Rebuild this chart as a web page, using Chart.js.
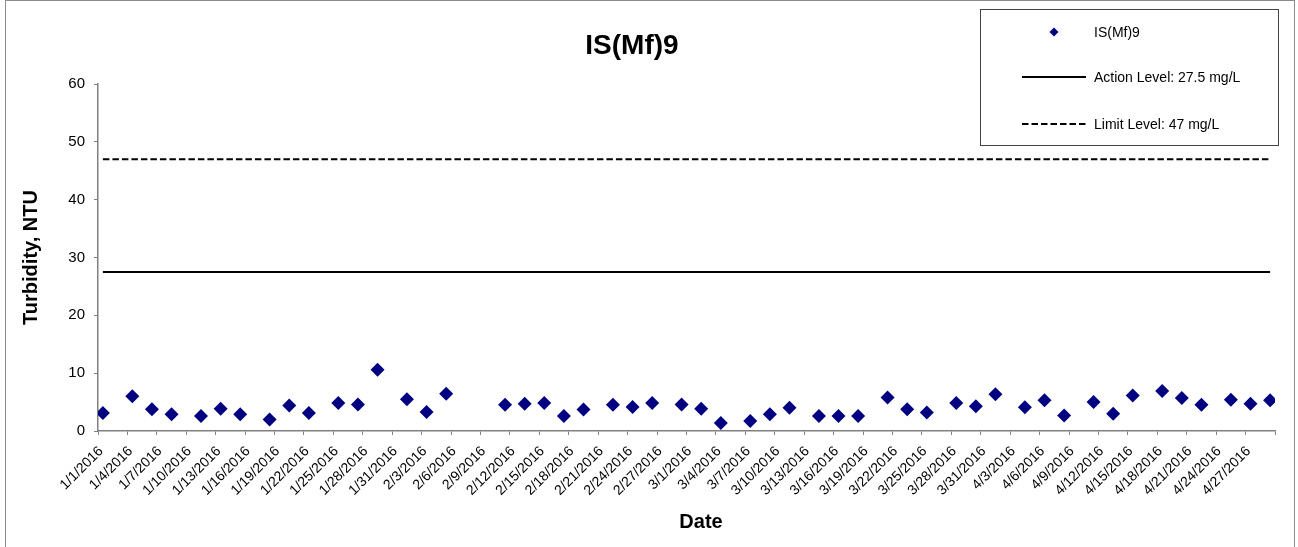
<!DOCTYPE html>
<html>
<head>
<meta charset="utf-8">
<title>IS(Mf)9</title>
<script src="https://cdn.jsdelivr.net/npm/chart.js@4/dist/chart.umd.min.js"></script>
<style>
  html, body { margin: 0; padding: 0; background: #fff; }
  #wrap { width: 1298px; height: 547px; position: relative; }
</style>
</head>
<body>
<div id="wrap"><canvas id="turbChart"></canvas></div>
<script>
// ---- data ----
const chartTitle = "IS(Mf)9";
const seriesName = "IS(Mf)9";
const sampleDates = [
  "1/1/2016", "1/4/2016", "1/6/2016", "1/8/2016", "1/11/2016", "1/13/2016", "1/15/2016",
  "1/18/2016", "1/20/2016", "1/22/2016", "1/25/2016", "1/27/2016", "1/29/2016",
  "2/1/2016", "2/3/2016", "2/5/2016", "2/11/2016", "2/13/2016", "2/15/2016", "2/17/2016",
  "2/19/2016", "2/22/2016", "2/24/2016", "2/26/2016", "2/29/2016",
  "3/2/2016", "3/4/2016", "3/7/2016", "3/9/2016", "3/11/2016", "3/14/2016", "3/16/2016",
  "3/18/2016", "3/21/2016", "3/23/2016", "3/25/2016", "3/28/2016", "3/30/2016",
  "4/1/2016", "4/4/2016", "4/6/2016", "4/8/2016", "4/11/2016", "4/13/2016", "4/15/2016",
  "4/18/2016", "4/20/2016", "4/22/2016", "4/25/2016", "4/27/2016", "4/29/2016"
];
const turbidity = [
  3.1, 6.0, 3.75, 2.9, 2.6, 3.85, 2.9,
  2.0, 4.4, 3.1, 4.85, 4.6, 10.6,
  5.5, 3.3, 6.45, 4.55, 4.7, 4.85, 2.6,
  3.7, 4.55, 4.15, 4.85, 4.6,
  3.85, 1.4, 1.75, 2.9, 4.0, 2.6, 2.6,
  2.6, 5.8, 3.75, 3.2, 4.85, 4.3,
  6.35, 4.1, 5.3, 2.7, 5.0, 3.0, 6.15,
  6.9, 5.7, 4.55, 5.4, 4.7, 5.3
];
const actionLevel = 27.5;
const limitLevel = 47;
const actionLabel = "Action Level: 27.5 mg/L";
const limitLabel = "Limit Level: 47 mg/L";
const axisStart = "1/1/2016";   // first day on the date axis
const axisDays = 120;           // days shown (1/1 .. 4/29)
const tickEveryDays = 3;
const yTicks = [0, 10, 20, 30, 40, 50, 60];
const xTitle = "Date";
const yTitle = "Turbidity, NTU";

// ---- helpers ----
const DAY = 86400000;
function parseDate(s) {
  const [m, d, y] = s.split("/").map(Number);
  return Date.UTC(y, m - 1, d);
}
const t0 = parseDate(axisStart);
// points sit in the middle of their day slot
function dayPos(s) { return (parseDate(s) - t0) / DAY + 0.5; }
function dayLabel(v) {
  const dt = new Date(t0 + v * DAY);
  return (dt.getUTCMonth() + 1) + "/" + dt.getUTCDate() + "/" + dt.getUTCFullYear();
}

const points = sampleDates.map((d, i) => ({ x: dayPos(d), y: turbidity[i] }));
const firstX = dayPos(sampleDates[0]);
const lastX = dayPos(sampleDates[sampleDates.length - 1]);

const FONT = "'Liberation Sans', Arial, sans-serif";
Chart.defaults.font.family = FONT;
Chart.defaults.color = "#000";

// title, x axis title, outer frame and boxed legend
const decorations = {
  id: "decorations",
  beforeDraw(chart) {
    const ctx = chart.ctx;
    ctx.save();
    ctx.fillStyle = "#fff";
    ctx.fillRect(0, 0, chart.width, chart.height);
    ctx.strokeStyle = "#8c8c8c";
    ctx.lineWidth = 1;
    ctx.strokeRect(5.5, 0.5, 1289, 600);
    ctx.restore();
  },
  afterDraw(chart) {
    const ctx = chart.ctx;
    ctx.save();
    ctx.fillStyle = "#000";
    ctx.textAlign = "center";
    ctx.textBaseline = "middle";
    ctx.font = "bold 28px " + FONT;
    ctx.fillText(chartTitle, 632, 46);
    ctx.font = "bold 20px " + FONT;
    ctx.fillText(xTitle, 701, 522);

    // legend box
    ctx.fillStyle = "#fff";
    ctx.fillRect(980.5, 9.5, 298, 136);
    ctx.strokeStyle = "#444";
    ctx.lineWidth = 1;
    ctx.strokeRect(980.5, 9.5, 298, 136);
    const rows = [32, 77, 124];
    ctx.font = "14px " + FONT;
    ctx.textAlign = "left";
    chart.data.datasets.forEach((ds, i) => {
      const y = rows[i];
      if (ds.showLine === false) {
        ctx.fillStyle = ds.backgroundColor;
        ctx.beginPath();
        ctx.moveTo(1054, y - 4.5);
        ctx.lineTo(1058.5, y);
        ctx.lineTo(1054, y + 4.5);
        ctx.lineTo(1049.5, y);
        ctx.closePath();
        ctx.fill();
      } else {
        ctx.strokeStyle = ds.borderColor;
        ctx.lineWidth = ds.borderWidth;
        ctx.setLineDash(ds.borderDash || []);
        ctx.beginPath();
        ctx.moveTo(1022, y);
        ctx.lineTo(1086, y);
        ctx.stroke();
        ctx.setLineDash([]);
      }
      ctx.fillStyle = "#000";
      ctx.fillText(ds.label, 1094, y + 1);
    });
    ctx.restore();
  }
};

new Chart(document.getElementById("turbChart"), {
  type: "scatter",
  data: {
    datasets: [
      {
        label: seriesName,
        data: points,
        showLine: false,
        pointStyle: "rectRot",
        pointRadius: 7,
        pointHoverRadius: 7,
        backgroundColor: "#000080",
        borderColor: "#000080",
        borderWidth: 0
      },
      {
        label: actionLabel,
        data: [{ x: firstX, y: actionLevel }, { x: lastX, y: actionLevel }],
        showLine: true,
        pointRadius: 0,
        borderColor: "#000",
        borderWidth: 2
      },
      {
        label: limitLabel,
        data: [{ x: firstX, y: limitLevel }, { x: lastX, y: limitLevel }],
        showLine: true,
        pointRadius: 0,
        borderColor: "#000",
        borderWidth: 2,
        borderDash: [6.5, 3]
      }
    ]
  },
  options: {
    responsive: true,
    maintainAspectRatio: false,
    animation: false,
    layout: { padding: { top: 84, right: 23, left: 0, bottom: 0 } },
    plugins: {
      legend: { display: false },
      title: { display: false },
      tooltip: { enabled: false }
    },
    scales: {
      x: {
        type: "linear",
        min: 0,
        max: axisDays,
        afterBuildTicks(scale) {
          const t = [];
          for (let v = 0; v <= axisDays; v += tickEveryDays) t.push({ value: v });
          scale.ticks = t;
        },
        afterFit(scale) { scale.height = 116; },
        ticks: {
          autoSkip: false,
          minRotation: 45,
          maxRotation: 45,
          padding: 8,
          labelOffset: 3,
          font: { size: 14 },
          color: "#000",
          callback: (v) => (v < axisDays ? dayLabel(v) : "")
        },
        grid: { drawOnChartArea: false, tickLength: 4, color: "#808080" },
        border: { color: "#808080", width: 1.5 },
        title: { display: false }
      },
      y: {
        min: 0,
        max: 60,
        afterBuildTicks(scale) { scale.ticks = yTicks.map(v => ({ value: v })); },
        afterFit(scale) { scale.width = 98; },
        ticks: { font: { size: 15 }, color: "#000", padding: 9 },
        grid: { drawOnChartArea: false, tickLength: 4, color: "#808080" },
        border: { color: "#808080", width: 1.5 },
        title: {
          display: true,
          text: yTitle,
          font: { size: 20, weight: "bold" },
          color: "#000",
          padding: { top: 19.5, bottom: 0 }
        }
      }
    }
  },
  plugins: [decorations]
});
</script>
</body>
</html>
